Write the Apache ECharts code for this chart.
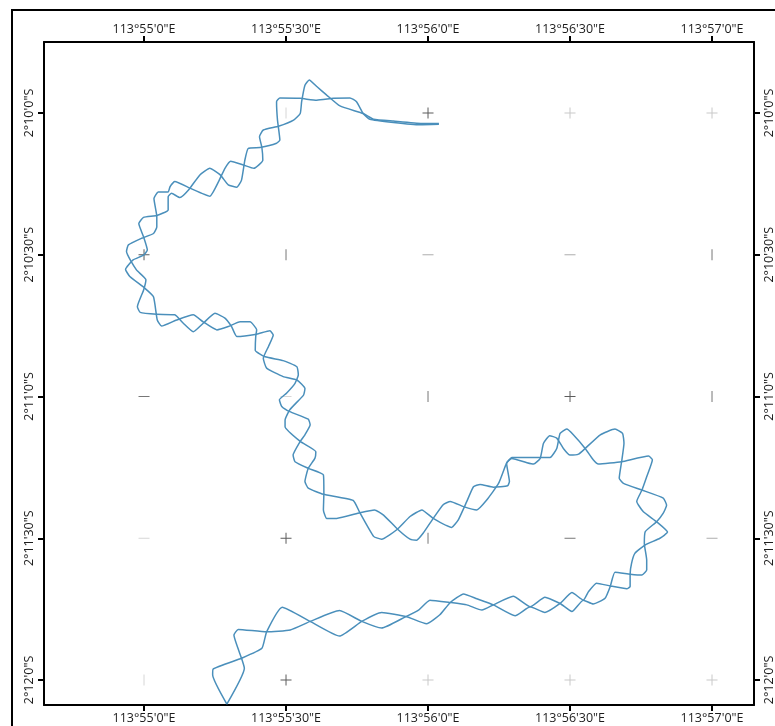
<!DOCTYPE html>
<html><head><meta charset="utf-8">
<style>html,body{margin:0;padding:0;background:#fff}#c{width:775px;height:726px}</style>
<script src="https://cdn.jsdelivr.net/npm/echarts@6/dist/echarts.min.js"></script>
</head><body><div id="c"></div>
<script>
// Values: arc-seconds east of 113°55'0"E and south of 2°10'0"S
const trackOneLon = [62.3,58.3,52.7,47.7,46.3,44.9,43.5,40.0,36.5,33.0,28.7,28.0,28.2,28.7,28.0,24.5,22.0,21.3,20.6,19.6,17.8,16.1,13.9,11.8,9.4,7.6,5.8,5.1,5.1,2.7,-0.1,-1.1,-0.1,0.7,-0.1,-2.3,-3.9,-3.0,0.2,2.0,2.8,3.7,6.9,10.4,12.5,15.4,17.8,20.3,22.4,23.8,23.6,23.5,25.6,29.4,32.3,32.6,31.9,30.1,28.6,29.1,30.8,34.7,35.1,34.0,33.0,31.5,31.9,34.7,37.9,38.0,37.9,38.6,40.7,45.6,48.7,50.6,53.7,56.2,57.6,59.0,61.1,63.2,64.7,67.5,70.3,72.4,74.9,76.6,77.7,81.6,85.8,87.2,87.9,89.3,90.7,93.2,94.9,96.0,100.9,106.6,107.4,106.2,105.2,104.1,105.5,108.3,110.6,109.0,105.9,103.7,103.0,102.7,102.7,102.0,98.5,95.6,93.9,92.8,90.4,87.9,84.7,81.6,78.4,73.8,70.3,67.5,64.7,62.5,59.7,55.5,50.2,46.0,41.3,35.1,29.2,25.9,24.9,20.6,14.6,14.5,17.5];
const trackOneLat = [2.4,2.5,2.0,1.3,0.1,-2.4,-3.2,-3.1,-2.7,-3.1,-3.2,-2.4,1.5,5.7,6.4,7.3,7.5,10.0,14.2,15.7,15.2,13.1,11.7,13.1,16.3,17.9,17.0,17.7,20.5,21.7,22.1,23.4,26.2,29.0,30.1,31.1,33.1,34.6,37.1,38.9,43.8,45.1,43.8,42.7,44.2,45.9,45.2,44.2,44.2,45.9,47.3,50.2,51.6,52.4,53.7,55.4,57.2,59.3,60.7,62.1,63.2,64.8,66.0,68.1,69.5,72.4,73.8,75.2,76.6,80.5,84.0,85.8,85.8,84.6,84.0,85.1,88.2,90.2,90.4,88.9,85.8,82.9,82.2,83.3,84.0,81.9,78.4,74.1,72.9,72.9,72.9,71.0,67.8,66.9,68.1,71.0,73.4,74.3,73.8,72.6,73.4,77.0,79.8,82.2,84.4,86.5,88.7,90.0,91.4,93.2,95.3,97.6,100.2,100.7,100.1,99.5,101.3,103.1,101.5,103.8,105.7,104.5,106.4,104.1,102.8,101.8,103.6,106.2,108.1,106.6,105.7,107.6,110.7,107.6,104.6,109.8,113.3,115.4,117.7,118.9,125.1];
const trackTwoLon = [62.3,58.7,52.7,48.5,46.3,41.4,38.6,36.5,34.9,34.0,33.3,33.0,31.6,28.4,25.2,24.4,24.9,25.1,23.2,21.0,18.3,17.1,15.9,13.9,9.7,6.5,5.5,5.1,3.0,2.1,2.7,2.7,2.0,-0.5,-3.3,-3.7,-1.6,0.4,-0.1,-1.4,-0.8,2.7,6.5,8.3,10.4,12.5,15.0,17.1,18.5,19.6,23.8,26.6,27.3,26.3,25.2,25.9,29.4,32.3,34.0,33.7,30.8,29.8,29.8,33.0,36.3,36.1,34.7,34.0,34.7,37.9,44.2,45.6,48.5,50.2,53.4,56.2,58.7,61.1,65.0,66.4,68.2,69.6,71.0,73.8,76.8,77.2,76.6,77.7,80.9,82.3,83.7,84.4,85.7,87.2,88.6,90.0,91.8,93.2,96.4,99.5,101.1,101.4,100.9,100.4,101.3,105.2,109.7,110.4,109.7,108.3,105.9,105.7,106.2,106.2,105.2,102.7,99.5,98.5,97.4,94.9,92.8,90.4,87.9,84.7,81.6,78.0,73.8,71.4,68.2,64.7,60.4,58.0,55.1,50.2,46.0,41.3,35.1,30.9,25.9,19.9,19.0,20.6,21.2,17.5];
const trackTwoLat = [2.2,2.2,1.7,1.3,0.1,-1.5,-3.8,-5.6,-7.0,-5.9,-2.4,0.1,1.5,2.8,3.6,5.0,7.3,10.0,11.7,11.0,10.2,11.7,14.2,17.6,15.9,14.5,15.6,16.7,16.7,18.1,21.9,24.1,25.5,26.5,27.9,29.3,33.2,35.3,37.5,41.0,42.2,42.6,42.7,44.5,46.3,44.5,42.4,43.4,45.2,47.3,46.8,46.1,47.0,49.4,51.9,54.0,55.8,56.5,58.3,59.7,62.8,65.0,66.4,69.5,71.7,73.1,75.2,78.0,79.4,80.7,82.0,84.6,89.6,90.2,88.2,85.4,84.0,85.8,87.7,86.1,82.2,79.1,78.6,79.2,78.9,78.0,74.1,73.1,74.0,74.3,73.1,69.9,68.3,68.8,71.0,72.4,72.2,71.0,68.1,66.9,67.8,69.9,73.8,77.3,78.4,79.8,81.5,83.0,84.7,86.5,88.6,91.1,94.6,96.7,97.8,97.6,97.2,100.2,102.7,103.9,103.1,105.5,103.8,102.5,104.5,102.3,104.1,105.2,104.1,103.6,103.1,105.2,106.7,109.0,107.6,105.3,107.6,109.4,109.8,109.3,110.5,115.4,117.5,125.1];

const lonTicks = [0,30,60,90,120];
const latTicks = [0,30,60,90,120];
const lonLabels = ['113°55\'0"E','113°55\'30"E','113°56\'0"E','113°56\'30"E','113°57\'0"E'];
const latLabels = ['2°10\'0"S','2°10\'30"S','2°11\'0"S','2°11\'30"S','2°12\'0"S'];

// Graticule marks [lon, lat]
const plusDark  = [[60,0],[0,30],[90,60],[30,90],[30,120]];
const plusLight = [[90,0],[120,0],[60,120],[90,120],[120,120]];
const vertDark  = [[30,30],[120,30],[60,60],[120,60],[60,90]];
const vertLight = [[30,0],[0,120]];
const horizDark = [[0,60],[90,90]];
const horizMid  = [[60,30],[90,30],[120,90]];
const horizLight= [[30,60],[0,90]];

const zip = (a,b)=>a.map((v,i)=>[v,b[i]]);
const plusPath = 'path://M0,5 H5 V0 H6 V5 H11 V6 H6 V11 H5 V6 H0 Z';
const marks = (data,symbol,size,color)=>({type:'scatter',data,symbol,symbolSize:size,
  itemStyle:{color},silent:true,z:1,animation:false});
const track = d=>({type:'line',data:d,smooth:0.15,showSymbol:false,symbol:'none',silent:true,z:3,
  animation:false,clip:false,lineStyle:{color:'#4a8fbb',width:1.5}});

const XR=[-21.13,128.87], YR=[-15.03,125.29];
const fnt="'Open Sans','Noto Sans',sans-serif";
const xAxisOf=(position,margin)=>({type:'value',position,min:XR[0],max:XR[1],splitLine:{show:false},
  axisLine:{show:true,onZero:false,lineStyle:{color:'#000',width:2}},
  axisTick:{show:true,length:6,customValues:lonTicks,lineStyle:{color:'#000',width:2}},
  axisLabel:{show:true,customValues:lonTicks,margin,color:'#1c1c1c',fontSize:12.5,fontFamily:fnt,
    formatter:v=>lonLabels[lonTicks.indexOf(Math.round(v))]||''}});
const yAxisOf=(position,margin)=>({type:'value',position,inverse:true,min:YR[0],max:YR[1],splitLine:{show:false},
  axisLine:{show:true,onZero:false,lineStyle:{color:'#000',width:2}},
  axisTick:{show:true,length:6,customValues:latTicks,lineStyle:{color:'#000',width:2}},
  axisLabel:{show:true,customValues:latTicks,rotate:90,margin,color:'#1c1c1c',fontSize:12.5,fontFamily:fnt,
    formatter:v=>latLabels[latTicks.indexOf(Math.round(v))]||''}});

const chart=echarts.init(document.getElementById('c'),null,{renderer:'canvas'});
chart.setOption({
  animation:false,backgroundColor:'#fff',
  grid:{left:44,right:21,top:42,bottom:21,containLabel:false,outerBoundsMode:'none'},
  xAxis:[xAxisOf('top',6),xAxisOf('bottom',7)],
  yAxis:[yAxisOf('left',8),yAxisOf('right',9)],
  graphic:[
    {type:'line',silent:true,shape:{x1:11,y1:10,x2:775,y2:10},style:{stroke:'#000',lineWidth:2}},
    {type:'line',silent:true,shape:{x1:12,y1:9,x2:12,y2:726},style:{stroke:'#000',lineWidth:2}}
  ],
  series:[
    marks(plusDark,plusPath,11,'#333'),
    marks(plusLight,plusPath,11,'#bbb'),
    marks(vertDark,'rect',[1,11],'#555'),
    marks(vertLight,'rect',[1,11],'#ccc'),
    marks(horizDark,'rect',[11,1],'#555'),
    marks(horizMid,'rect',[11,1],'#999'),
    marks(horizLight,'rect',[11,1],'#ccc'),
    track(zip(trackOneLon,trackOneLat)),
    track(zip(trackTwoLon,trackTwoLat))
  ]
});
</script></body></html>
